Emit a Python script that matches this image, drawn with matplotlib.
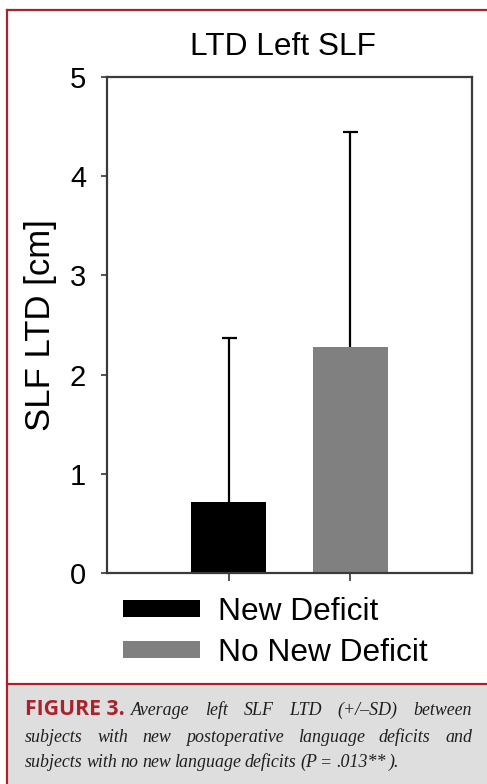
import numpy as np
import matplotlib.pyplot as plt
from matplotlib.patches import Rectangle
from matplotlib.lines import Line2D

# values
groups = ['New Deficit', 'No New Deficit']
means = [0.72, 2.28]
sds = [1.65, 2.17]
bar_colors = ['#000000', '#808080']
yticks = [0, 1, 2, 3, 4, 5]

title = 'LTD Left SLF'
ylabel = 'SLF LTD [cm]'
cap_head = 'FIGURE 3.'
cap_lines = [
    'Average left SLF LTD (+/\u2013SD) between',
    'subjects with new postoperative language deficits and',
    'subjects with no new language deficits (P = .013** ).',
]

W, H = 487, 784
RED = '#a8232b'

plt.rcParams['font.family'] = ['Liberation Sans', 'DejaVu Sans']

fig = plt.figure(figsize=(W / 100, H / 100), dpi=100)
fig.patch.set_facecolor('white')

# frame and caption box
fig.patches.append(Rectangle((7 / W, 0), 1, 100 / H, transform=fig.transFigure,
                             facecolor='#dedede', edgecolor='none', zorder=0))
for xs, ys in [([7, W], [H - 10, H - 10]), ([7, 7], [0, H - 10]), ([7, W], [100, 100])]:
    fig.add_artist(Line2D(np.array(xs) / W, np.array(ys) / H, color=RED, lw=1.6,
                          transform=fig.transFigure))

ax = fig.add_axes([107 / W, 211 / H, 365 / W, 496 / H])
x = np.arange(1, len(groups) + 1)
bars = ax.bar(x, means, width=0.615, color=bar_colors, edgecolor='none', zorder=2)
eb = ax.errorbar(x, means, yerr=[np.zeros(len(sds)), sds], fmt='none', ecolor='black',
                 elinewidth=1.6, capsize=5.4, capthick=1.6, zorder=1)
eb[1][0].set_visible(False)  # only the upper cap

ax.set_xlim(0, 3)
ax.set_ylim(0, 5)
ax.set_xticks(x)
ax.set_xticklabels([])
ax.set_yticks(yticks)
ax.set_yticklabels([str(t) for t in yticks], fontsize=21)
ax.tick_params(axis='y', length=4, width=1.2, pad=11, colors='#333333', labelcolor='black')
ax.tick_params(axis='x', length=5.5, width=1.2, colors='#333333')
for s in ax.spines.values():
    s.set_color('#3a3a3a')
    s.set_linewidth(1.6)
ax.set_ylabel(ylabel, fontsize=25, labelpad=9)

fig.text(283 / W, 1 - 55 / H, title, fontsize=22.8, ha='center', va='baseline')

leg = ax.legend(bars, groups, loc='upper left', bbox_to_anchor=(123 / W, 1 - 597 / H),
                bbox_transform=fig.transFigure, frameon=False, fontsize=22.8,
                handlelength=2.43, handleheight=0.44, handletextpad=0.57,
                labelspacing=0.35, borderpad=0, borderaxespad=0)

# caption, justified like the journal layout
fig.canvas.draw()
r = fig.canvas.get_renderer()
cap_kw = dict(family=['Liberation Serif', 'DejaVu Serif'], style='italic', color='#1e1e1e')

fig.text(25 / W, 1 - 715 / H, cap_head, fontsize=15.3, fontweight='bold', color=RED,
         family=['Open Sans', 'DejaVu Sans'], va='baseline')

probe = fig.text(0, 0, cap_lines[2], fontsize=14, **cap_kw)
wpx = probe.get_window_extent(r).width
probe.remove()
cap_size = 14 * 347 / wpx * 1.1

starts = [131, 25, 25]
ends = [472, 472, 380]
bases = [715, 742, 767]
for i, line in enumerate(cap_lines):
    words = line.split(' ')
    y = 1 - bases[i] / H
    ts = [fig.text(0, y, w_, fontsize=cap_size, va='baseline', **cap_kw) for w_ in words]
    widths = [t.get_window_extent(r).width for t in ts]
    gap = max((ends[i] - starts[i] - sum(widths)) / (len(words) - 1), 3.5)
    xpos = starts[i]
    for t, wd in zip(ts, widths):
        t.set_x(xpos / W)
        xpos += wd + gap

fig.savefig('out.png', dpi=100)
